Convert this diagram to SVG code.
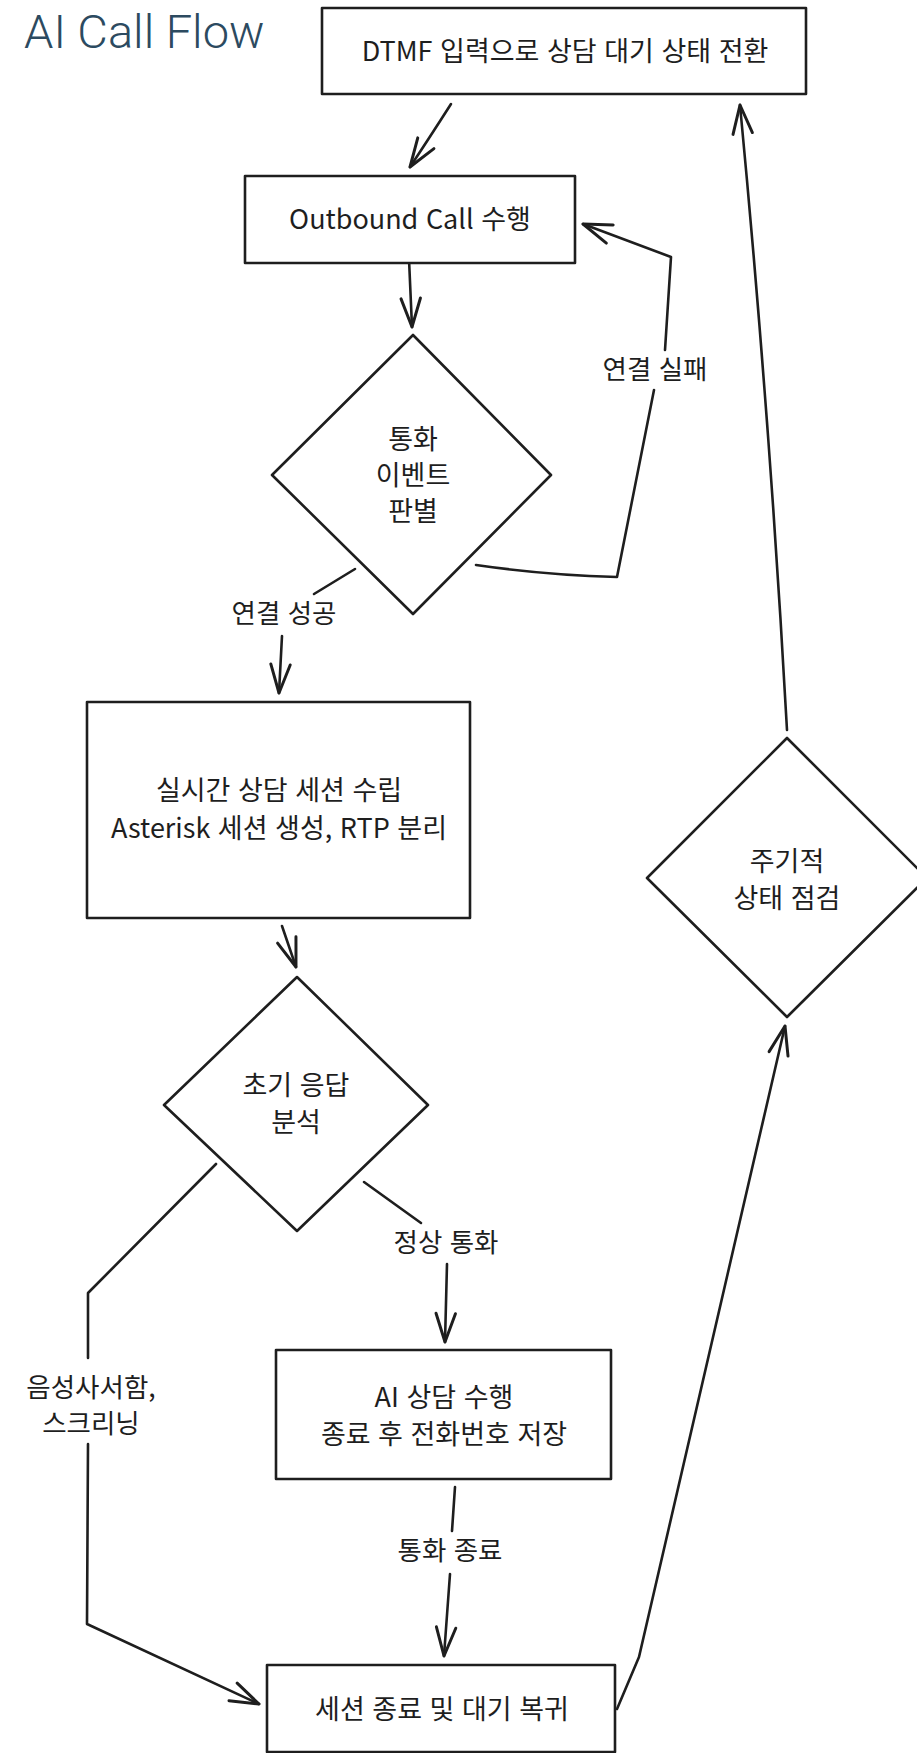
<svg xmlns="http://www.w3.org/2000/svg" width="917" height="1753" viewBox="0 0 917 1753">
<defs>
<style>
.shape{fill:#ffffff;stroke:#1e1e1e;stroke-width:2.6;stroke-linejoin:round}
.conn{fill:none;stroke:#1e1e1e;stroke-width:2.6;stroke-linecap:round;stroke-linejoin:round}
.t{font-family:"Noto Sans CJK KR","Noto Sans",sans-serif;font-size:27px;fill:#1e1e1e;text-anchor:middle;word-spacing:1.5px}
.lbl{font-size:26.5px}
.title{font-family:Roboto,"Liberation Sans",sans-serif;font-weight:300;font-size:47px;fill:#2c4a60}
</style>
<marker id="ah" markerUnits="userSpaceOnUse" markerWidth="40" markerHeight="40" refX="0" refY="0" viewBox="-30 -15 35 30" orient="auto" overflow="visible">
<path d="M-25,-8.5 L0,0 L-25,8.5" fill="none" stroke="#1e1e1e" stroke-width="2.6" stroke-linecap="round" stroke-linejoin="round"/>
</marker>
</defs>
<rect width="917" height="1753" fill="#ffffff"/>
<text class="title" x="24" y="48">AI Call Flow</text>

<g id="connectors">
<path class="conn" d="M451,104 Q428,140 410,167" marker-end="url(#ah)"/>
<path class="conn" d="M409,259 L412,327" marker-end="url(#ah)"/>
<path class="conn" d="M476,565 Q545,575 617,577 L654,390 M665,350 L671,257 L583,224" marker-end="url(#ah)"/>
<text class="t lbl" x="655" y="379">연결 실패</text>
<path class="conn" d="M355,569 L314,594"/>
<text class="t lbl" x="284" y="623">연결 성공</text>
<path class="conn" d="M282,636 L279,693" marker-end="url(#ah)"/>
<path class="conn" d="M282,926 L296,967" marker-end="url(#ah)"/>
<path class="conn" d="M364,1182 L421,1223"/>
<text class="t lbl" x="446" y="1252">정상 통화</text>
<path class="conn" d="M447,1264 L445,1342" marker-end="url(#ah)"/>
<path class="conn" d="M455,1487 L452,1531"/>
<text class="t lbl" x="450" y="1560">통화 종료</text>
<path class="conn" d="M450,1574 L444,1656" marker-end="url(#ah)"/>
<path class="conn" d="M216,1164 L88,1293 L88,1358 M88,1444 L87,1624 L259,1704" marker-end="url(#ah)"/>
<text class="t lbl" x="91" y="1397">음성사서함,<tspan x="91" dy="36">스크리닝</tspan></text>
<path class="conn" d="M617,1709 L639,1657 L785,1026" marker-end="url(#ah)"/>
<path class="conn" d="M787,730 Q770,420 740,105" marker-end="url(#ah)"/>
</g>

<g id="node-dtmf">
<rect class="shape" x="322" y="8" width="484" height="86"/>
<text class="t" x="565" y="61">DTMF 입력으로 상담 대기 상태 전환</text>
</g>
<g id="node-outbound">
<rect class="shape" x="245" y="176" width="330" height="87"/>
<text class="t" x="410" y="229">Outbound Call 수행</text>
</g>
<g id="node-event">
<polygon class="shape" points="413,335 551,475 413,614 272,475"/>
<text class="t" x="413" y="449">통화<tspan x="413" dy="36">이벤트</tspan><tspan x="413" dy="36">판별</tspan></text>
</g>
<g id="node-session">
<rect class="shape" x="87" y="702" width="383" height="216"/>
<text class="t" x="279" y="800">실시간 상담 세션 수립<tspan x="279" dy="38">Asterisk 세션 생성, RTP 분리</tspan></text>
</g>
<g id="node-initial">
<polygon class="shape" points="297,977 428,1105 297,1231 164,1105"/>
<text class="t" x="296" y="1095">초기 응답<tspan x="296" dy="37">분석</tspan></text>
</g>
<g id="node-ai">
<rect class="shape" x="276" y="1350" width="335" height="129"/>
<text class="t" x="444" y="1407">AI 상담 수행<tspan x="444" dy="36.5">종료 후 전화번호 저장</tspan></text>
</g>
<g id="node-end">
<rect class="shape" x="267" y="1665" width="348" height="87"/>
<text class="t" x="442" y="1719">세션 종료 및 대기 복귀</text>
</g>
<g id="node-check">
<polygon class="shape" points="787,738 927,878 787,1017 647,878"/>
<text class="t" x="787" y="871">주기적<tspan x="787" dy="36.5">상태 점검</tspan></text>
</g>
</svg>
